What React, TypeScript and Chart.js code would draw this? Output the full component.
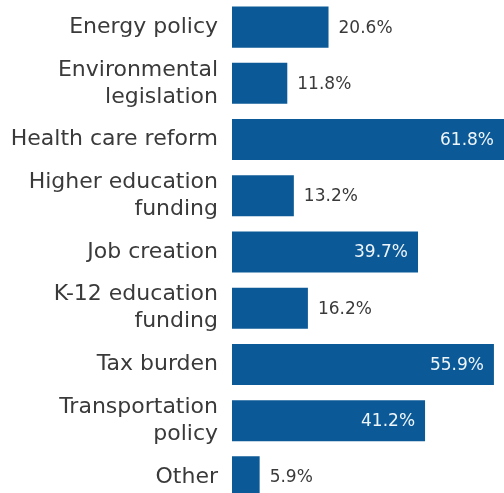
import React, { useEffect, useRef } from "react";
import { Chart, registerables } from "chart.js";

Chart.register(...registerables);

const categories: (string | string[])[] = [
  "Energy policy",
  ["Environmental", "legislation"],
  "Health care reform",
  ["Higher education", "funding"],
  "Job creation",
  ["K-12 education", "funding"],
  "Tax burden",
  ["Transportation", "policy"],
  "Other",
];
const values: number[] = [20.6, 11.8, 61.8, 13.2, 39.7, 16.2, 55.9, 41.2, 5.9];

const BAR_COLOR = "#0b5a97";
const TEXT_COLOR = "#3a3a3a";
const FONT = "'DejaVu Sans', sans-serif";
const VIEW_W = 504;

export default function App() {
  const ref = useRef<HTMLCanvasElement | null>(null);
  useEffect(() => {
    document.body.style.margin = "0";
    if (!ref.current) return;
    const labelPlugin = {
      id: "valueLabels",
      afterDatasetsDraw(chart: any) {
        const ctx = chart.ctx;
        const meta = chart.getDatasetMeta(0);
        ctx.save();
        ctx.font = `17px ${FONT}`;
        ctx.textBaseline = "middle";
        meta.data.forEach((bar: any, i: number) => {
          const v = values[i];
          const txt = v.toFixed(1) + "%";
          if (v >= 30) {
            ctx.fillStyle = "#eef5fb";
            ctx.textAlign = "right";
            ctx.fillText(txt, Math.min(bar.x, VIEW_W) - 10, bar.y + 1);
          } else {
            ctx.fillStyle = TEXT_COLOR;
            ctx.textAlign = "left";
            ctx.fillText(txt, bar.x + 10, bar.y + 1);
          }
        });
        ctx.restore();
      },
    };
    const chart = new Chart(ref.current, {
      type: "bar",
      data: {
        labels: categories,
        datasets: [
          {
            data: values,
            backgroundColor: BAR_COLOR,
            borderWidth: 0,
            categoryPercentage: 1,
            barPercentage: 0.73,
          },
        ],
      },
      options: {
        indexAxis: "y",
        animation: false,
        responsive: false,
        layout: { padding: 0 },
        plugins: {
          legend: { display: false },
          tooltip: { enabled: false },
          title: { display: false },
        },
        scales: {
          x: {
            display: false,
            min: 0,
            max: 70,
          },
          y: {
            grid: { display: false, drawTicks: false },
            border: { display: false },
            ticks: {
              color: TEXT_COLOR,
              padding: 14,
              autoSkip: false,
              font: { family: FONT, size: 22, lineHeight: 1.23 },
            },
            afterFit(scale: any) {
              scale.width = 232;
              scale.paddingTop = 0;
              scale.paddingBottom = 0;
            },
          },
        },
      },
      plugins: [labelPlugin],
    });
    return () => chart.destroy();
  }, []);
  return (
    <div
      style={{
        position: "fixed",
        left: 0,
        top: 0,
        width: 504,
        height: 493,
        overflow: "hidden",
        background: "#fff",
      }}
    >
      <canvas
        ref={ref}
        width={560}
        height={506}
        style={{ position: "absolute", left: 0, top: -1, width: 560, height: 506 }}
      />
    </div>
  );
}
